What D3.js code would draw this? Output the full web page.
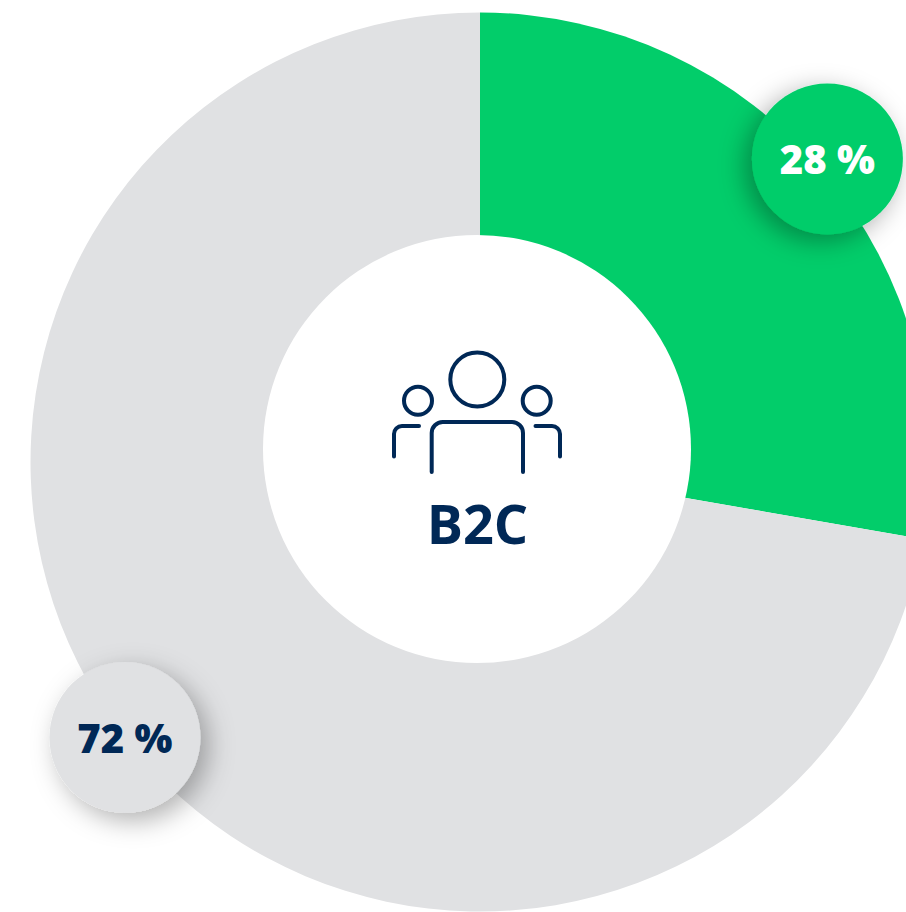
<!DOCTYPE html>
<html>
<head>
<meta charset="utf-8">
<script src="https://cdn.jsdelivr.net/npm/d3@7"></script>
<style>
        html, body { margin: 0; padding: 0; background: #fff; overflow: hidden; }
        svg { display: block; }
</style>
</head>
<body>
<script>
// values, slices (the labels round them)
const segments = ["B2C", "other"];
const shares = [27.75, 72.25];
const shareLabels = ["28 %", "72 %"];
const centreLabel = "B2C";

// colours
const colours = ["#02cd6a", "#e0e1e3"];
const labelColours = ["#ffffff", "#002856"];
const navy = "#002856";

// layout
const width = 906, height = 912;
const cx = 480, cy = 462, outer = 449.5;
const holeX = 477, holeY = 449, holeR = 214;
const bubbleR = 75.5;
const bubbleDist = [461, 449.4];
const bubbleShift = [-1.05, 2.24];    // degrees, off the slice middle

const svg = d3.select("body").append("svg")
        .attr("width", width)
        .attr("height", height);

const defs = svg.append("defs");
defs.append("filter")
        .attr("id", "shadowGreen")
        .attr("x", "-50%").attr("y", "-50%")
        .attr("width", "200%").attr("height", "200%")
        .append("feDropShadow")
        .attr("dx", -7).attr("dy", 7)
        .attr("stdDeviation", 13)
        .attr("flood-color", "#000")
        .attr("flood-opacity", 0.33);
defs.append("filter")
        .attr("id", "shadowGrey")
        .attr("x", "-50%").attr("y", "-50%")
        .attr("width", "200%").attr("height", "200%")
        .append("feDropShadow")
        .attr("dx", 8).attr("dy", 8)
        .attr("stdDeviation", 13)
        .attr("flood-color", "#000")
        .attr("flood-opacity", 0.3);

const pie = d3.pie().sort(null)(shares);
const arc = d3.arc().innerRadius(0).outerRadius(outer);

svg.append("g")
        .attr("transform", `translate(${cx},${cy})`)
        .selectAll("path")
        .data(pie)
        .join("path")
        .attr("d", arc)
        .attr("fill", (d, i) => colours[i]);

// the hole sits a little off the ring centre
svg.append("circle")
        .attr("cx", holeX)
        .attr("cy", holeY)
        .attr("r", holeR)
        .attr("fill", "#fff");

// percentage bubbles
const bubbles = svg.append("g")
        .selectAll("g")
        .data(pie)
        .join("g")
        .attr("transform", (d, i) => {
                const a = (d.startAngle + d.endAngle) / 2 + bubbleShift[i] * Math.PI / 180;
                const x = cx + bubbleDist[i] * Math.sin(a);
                const y = cy - bubbleDist[i] * Math.cos(a);
                return `translate(${x},${y})`;
        });

bubbles.append("circle")
        .attr("r", bubbleR)
        .attr("fill", (d, i) => colours[i])
        .attr("filter", (d, i) => i == 0 ? "url(#shadowGreen)" : "url(#shadowGrey)");

bubbles.append("text")
        .attr("text-anchor", "middle")
        .attr("y", 15)
        .attr("font-family", "'Open Sans'")
        .attr("font-weight", 800)
        .attr("font-size", "40px")
        .attr("fill", (d, i) => labelColours[i])
        .text((d, i) => shareLabels[i]);

// people icon
const icon = svg.append("g")
        .attr("fill", "none")
        .attr("stroke", navy)
        .attr("stroke-width", 4)
        .attr("stroke-linecap", "round");

icon.append("circle").attr("cx", 477.3).attr("cy", 379.5).attr("r", 27);
icon.append("circle").attr("cx", 418).attr("cy", 400.7).attr("r", 14);
icon.append("circle").attr("cx", 536.7).attr("cy", 400.7).attr("r", 14);
icon.append("path").attr("d", "M431.7 472V433a11 11 0 0 1 11 -11H512a11 11 0 0 1 11 11V472");
icon.append("path").attr("d", "M394 456.5V434a8 8 0 0 1 8 -8H419");
icon.append("path").attr("d", "M535.5 426H552a8 8 0 0 1 8 8V456.5");

svg.append("text")
        .attr("x", 477.5)
        .attr("y", 544)
        .attr("text-anchor", "middle")
        .attr("font-family", "'Open Sans'")
        .attr("font-weight", 700)
        .attr("font-size", "54px")
        .attr("fill", navy)
        .text(centreLabel);
</script>
</body>
</html>
